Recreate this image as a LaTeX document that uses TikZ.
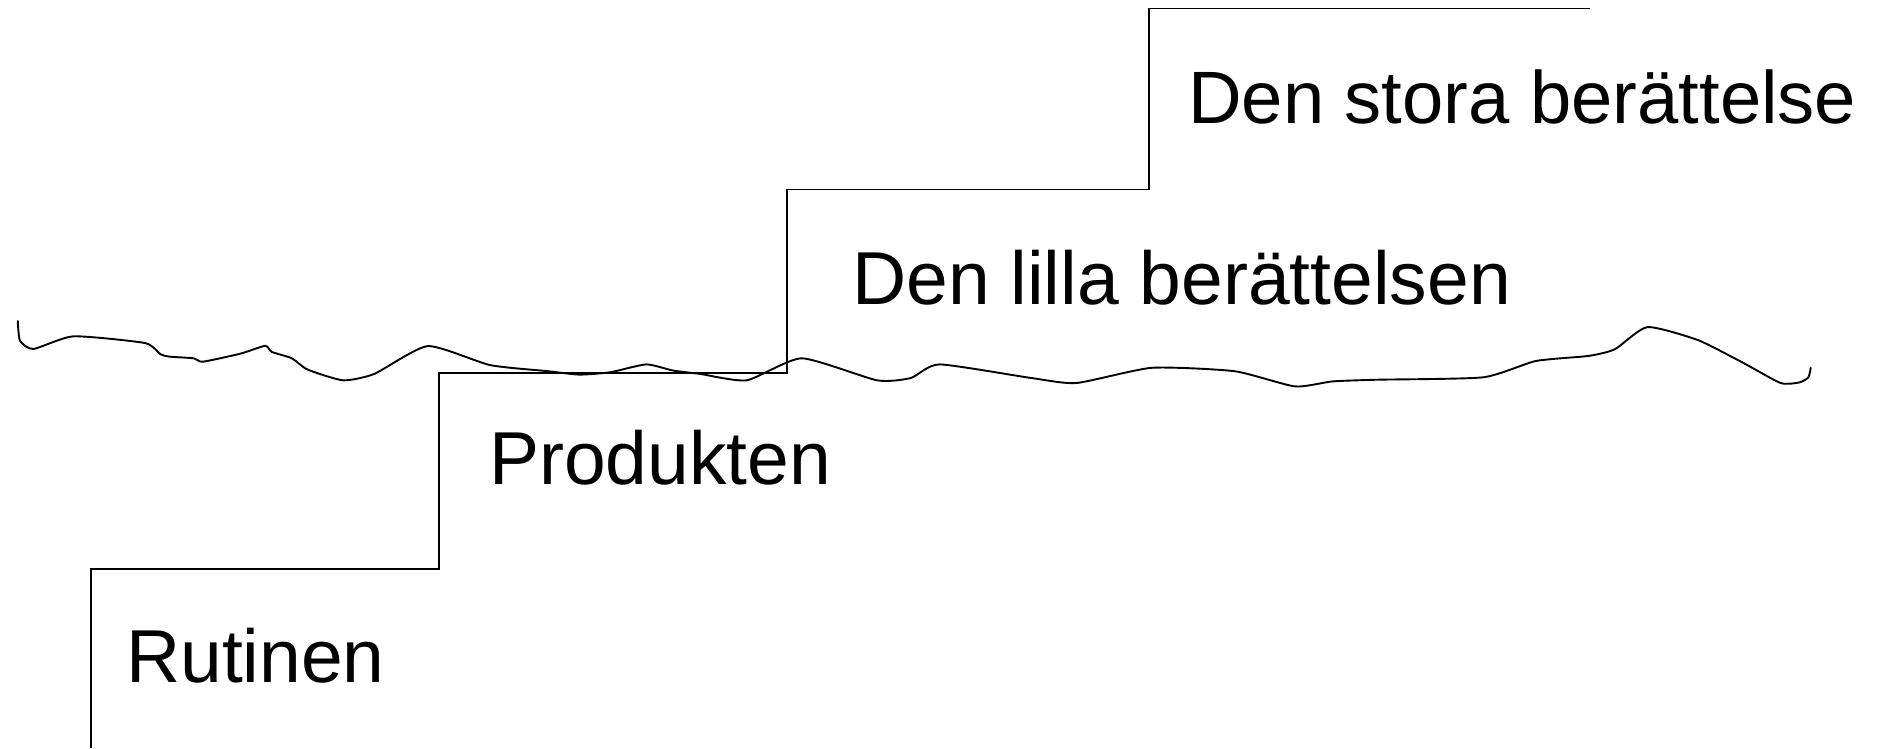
\documentclass[tikz,border=0pt]{standalone}
\usepackage{fontspec}
\setmainfont{Liberation Sans}
\begin{document}
\begin{tikzpicture}[x=1pt,y=-1pt,
  stepline/.style={draw=black,line width=1.4pt,line join=miter},
  wave/.style={draw=black,line width=1.9pt,line join=round,line cap=round},
  label/.style={anchor=base west,inner sep=0pt,font=\fontsize{75}{90}\selectfont}]
\useasboundingbox[fill=white] (0,0) rectangle (1881,748);
% step corners
\coordinate (s0) at (91,748);
\coordinate (s1) at (91,569);
\coordinate (s2) at (439,569);
\coordinate (s3) at (439,373);
\coordinate (s4) at (787,373);
\coordinate (s5) at (787,189.5);
\coordinate (s6) at (1149,189.5);
\coordinate (s7) at (1149,8.5);
\coordinate (s8) at (1590,8.5);
\draw[stepline] (s0) -- (s1) -- (s2) -- (s3) -- (s4) -- (s5) -- (s6) -- (s7) -- (s8);
% wavy line
\draw[wave] plot[smooth,tension=0.35] coordinates {
 (17.8,321) (20,340.7) (33.4,349) (73.5,336.3) (144.8,343) (160.4,354.2) (169.3,356.6)
 (193.9,358.3) (202.8,361.7) (240.6,353.6) (265.2,345.8) (271.8,351.9) (291.9,358.3)
 (307.5,369.5) (343.1,380.3) (374.3,373.9) (427.8,346.1) (490.2,365.1) (548,371.2)
 (579.3,374.6) (610.5,372.2) (646.2,364.4) (672.9,370.5) (700,373.9) (746.7,380.3)
 (801.7,358.3) (877,380.3) (910.8,378) (939.5,364.4) (1031.3,378) (1076.5,383)
 (1151.8,367.8) (1234.6,371.2) (1294.9,386.4) (1332.5,381.4) (1377.7,379.7)
 (1483.1,377.3) (1535.8,361) (1588.6,355.9) (1614.9,349.2) (1647.3,327.1)
 (1697.7,340) (1742.9,362.7) (1780.6,383) (1799.4,382.4) (1808.4,377.3) (1810.7,367.8)};
% labels
\node[label] (rutinen) at (126,682) {Rutinen};
\node[label] (produkten) at (489,484) {Produkten};
\node[label] (lilla) at (852,304) {Den lilla berättelsen};
\node[label,font=\fontsize{74.2}{89}\selectfont] (stora) at (1188,123) {Den stora berättelse};
\end{tikzpicture}
\end{document}
